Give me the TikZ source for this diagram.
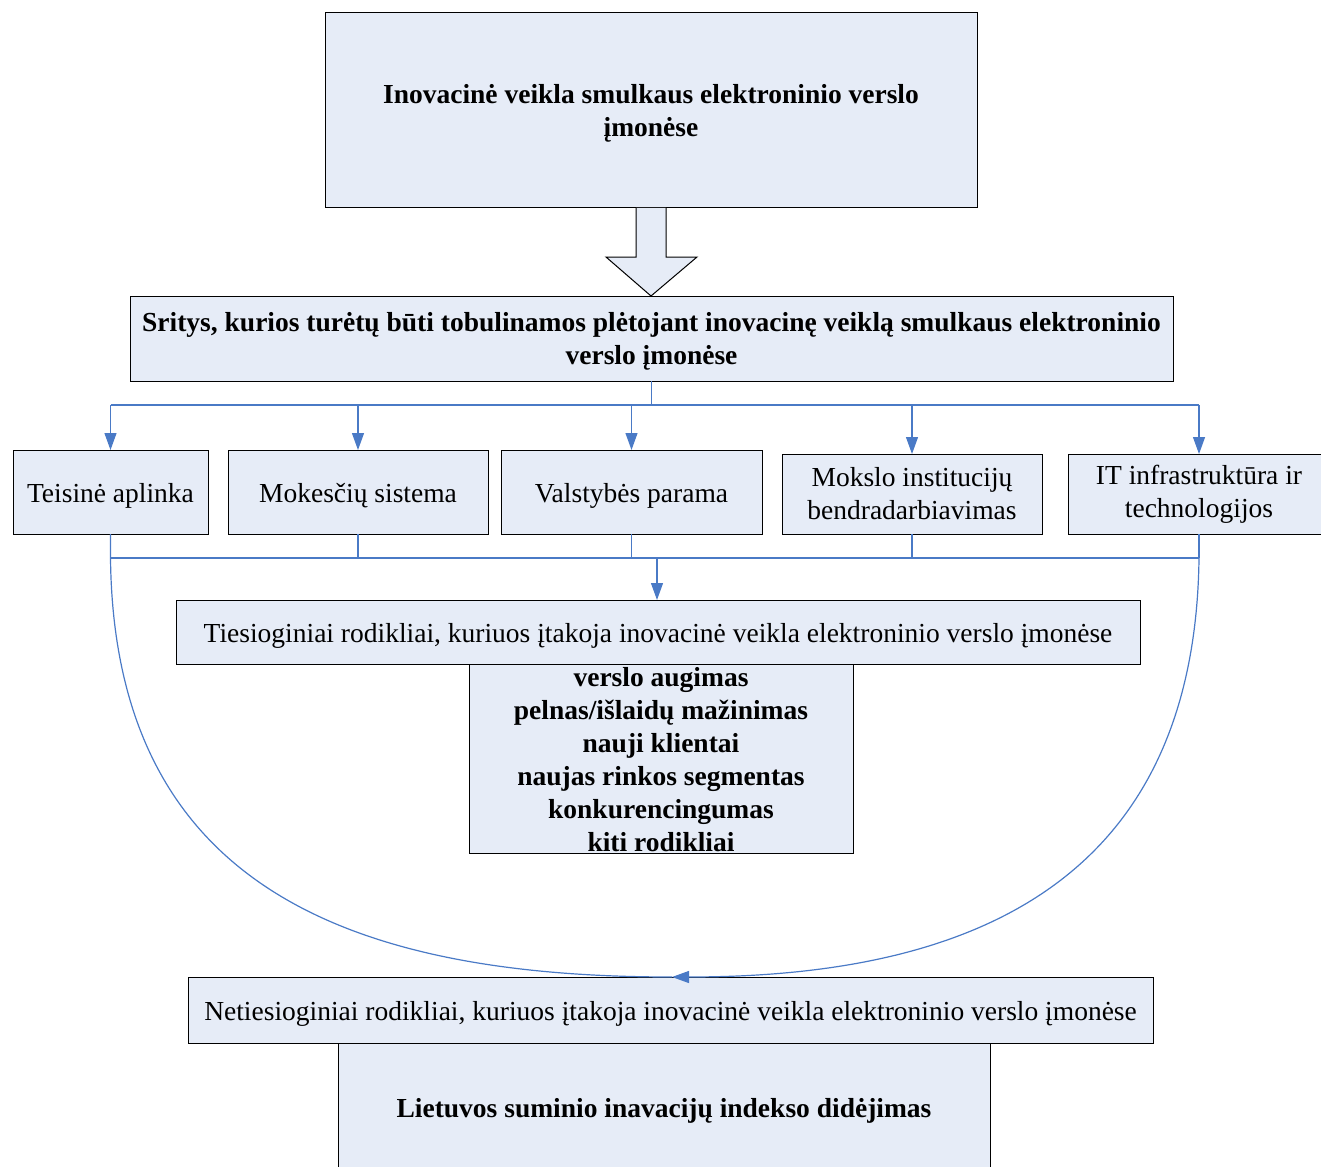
\documentclass[tikz,border=0pt]{standalone}
\usepackage{fontspec}
\setmainfont{Liberation Serif}
\usetikzlibrary{arrows.meta,calc}
\definecolor{boxfill}{HTML}{E6ECF7}
\definecolor{connc}{HTML}{4A7AC6}
\newcommand{\twolines}[2]{\raisebox{-3pt}[\height][\depth]{\begin{tabular}{@{}c@{}}#1\\#2\end{tabular}}}
\begin{document}
\begin{tikzpicture}[x=1pt,y=-1pt,
  box/.style={draw=black,fill=boxfill,line width=1pt,inner sep=0pt,outer sep=0pt,align=center,font=\fontsize{27.5}{33}\selectfont,execute at begin node={\rule{0pt}{0.95em}}},
  bbox/.style={box,font=\fontsize{27.5}{33}\selectfont\bfseries},
  conn/.style={draw=connc,line width=1.2pt},
  tip/.style={-{Triangle[length=17pt,width=12pt]}}]
\useasboundingbox (0,0) rectangle (1321,1166);
\node[bbox,minimum width=652pt,minimum height=195pt] (top) at (651,110.5) {\twolines{Inovacinė veikla smulkaus elektroninio verslo}{įmonėse}};
\draw[fill=boxfill,line width=1pt] (636,208) -- (636,257) -- (606,257) -- (651,296) -- (697,257) -- (666,257) -- (666,208);
\node[bbox,minimum width=1043pt,minimum height=85pt] (sr) at (651.5,338.5) {\twolines{Sritys, kurios turėtų būti tobulinamos plėtojant inovacinę veiklą smulkaus elektroninio}{verslo įmonėse}};
\node[box,minimum width=195pt,minimum height=84pt] (b1) at (110.5,492) {Teisinė aplinka};
\node[box,minimum width=260pt,minimum height=84pt] (b2) at (358,492) {Mokesčių sistema};
\node[box,minimum width=261pt,minimum height=84pt] (b3) at (631.5,492) {Valstybės parama};
\node[box,minimum width=260pt,minimum height=80pt] (b4) at (912,494) {Mokslo institucijų\\bendradarbiavimas};
\node[box,minimum width=262pt,minimum height=80pt] (b5) at (1199,494) {IT infrastruktūra ir\\technologijos};
\node[box,minimum width=964pt,minimum height=64pt] (tie) at (658,632) {Tiesioginiai rodikliai, kuriuos įtakoja inovacinė veikla elektroninio verslo įmonėse};
\node[box,minimum width=384pt,minimum height=189pt] (list) at (661,758.5) {};
\node[align=center,inner sep=0pt,font=\fontsize{27.5}{33}\selectfont\bfseries] (listtxt) at (661,760) {verslo augimas\\pelnas/išlaidų mažinimas\\nauji klientai\\naujas rinkos segmentas\\konkurencingumas\\kiti rodikliai};
\node[box,minimum width=965pt,minimum height=66pt] (net) at (670.5,1010) {Netiesioginiai rodikliai, kuriuos įtakoja inovacinė veikla elektroninio verslo įmonėse};
\node[bbox,minimum width=652pt,minimum height=128pt] (lt) at (664,1107) {Lietuvos suminio inavacijų indekso didėjimas};
% top distribution
\coordinate (hub) at (651.5,405);
\draw[conn] (sr.south) -- (hub);
\draw[conn] (b1.north |- hub) -- (b5.north |- hub);
\foreach \b in {b1,b2,b3,b4,b5} \draw[conn,tip] (\b.north |- hub) -- (\b.north);
% bottom collection
\coordinate (j) at (657,558);
\foreach \b in {b1,b2,b3,b4,b5} \draw[conn] (\b.south) -- (\b.south |- j);
\draw[conn] (b1.south |- j) -- (b5.south |- j);
\draw[conn,tip] (j) -- (j |- tie.north);
% curves
\coordinate (mtip) at (672,977);
\draw[conn] (b1.south) -- ++(0,24) .. controls (114,880) and (340,977) .. (mtip);
\draw[conn,tip] (b5.south) -- ++(0,24) .. controls (1195,880) and (975,977) .. (mtip);
\end{tikzpicture}
\end{document}
